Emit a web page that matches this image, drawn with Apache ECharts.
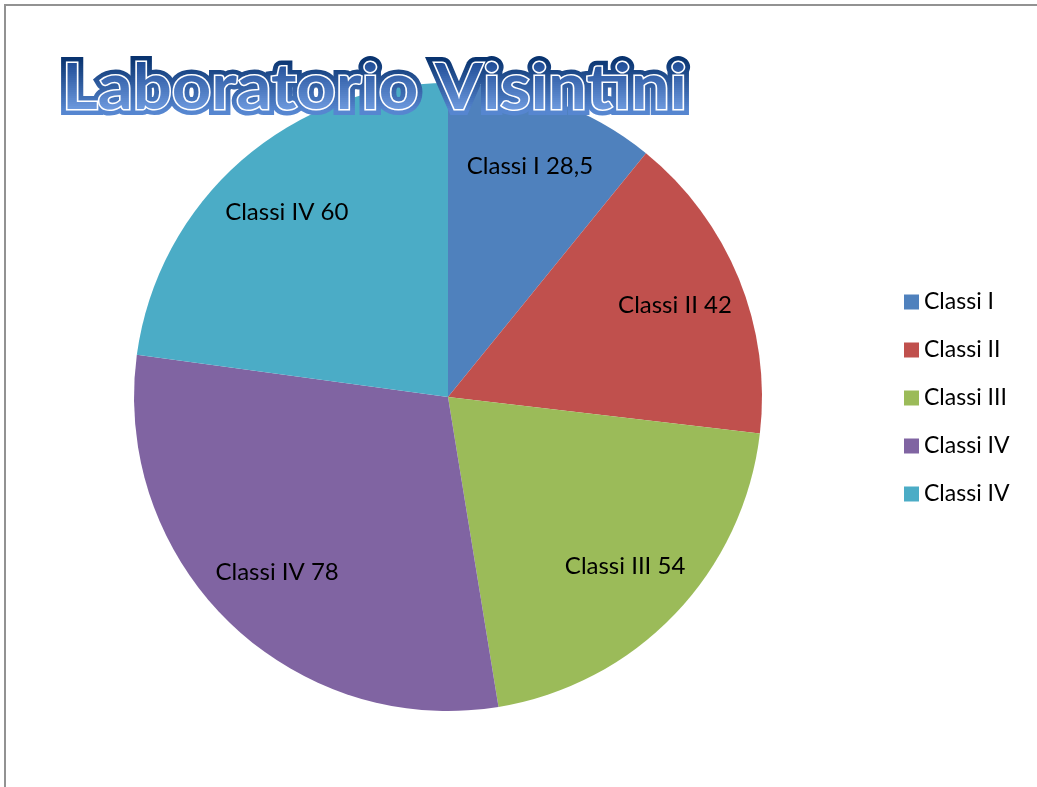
<!DOCTYPE html>
<html>
<head>
<meta charset="utf-8">
<script src="https://cdn.jsdelivr.net/npm/echarts@6/dist/echarts.min.js"></script>
<style>
  html, body { margin: 0; padding: 0; background: #fff; overflow: hidden; }
  #chart { width: 1037px; height: 787px; }
</style>
</head>
<body>
<div id="chart"></div>
<script>
// dati del grafico
var titolo = "Laboratorio Visintini";
// le ultime due classi hanno lo stesso nome, lo spazio finale le tiene distinte
var categorie = ["Classi I", "Classi II", "Classi III", "Classi IV", "Classi IV "];
var valori = [28.5, 42, 54, 78, 60];
var colori = ["#4F81BD", "#C0504D", "#9BBB59", "#8064A2", "#4BACC6"];

var dati = categorie.map(function (c, i) {
  return { name: c, value: valori[i] };
});

function etichetta(p) {
  return p.name.trim() + " " + String(p.value).replace(".", ",");
}

var myChart = echarts.init(document.getElementById("chart"));
myChart.setOption({
  animation: false,
  color: colori,
  legend: {
    orient: "vertical",
    left: 899,
    top: 285,
    itemWidth: 15,
    itemHeight: 15,
    itemGap: 24,
    icon: "rect",
    formatter: function (n) { return n.trim(); },
    textStyle: { fontFamily: "Lato", fontSize: 23, lineHeight: 24, color: "#000" },
    data: categorie
  },
  graphic: [
    {
      // cornice grigia
      type: "rect",
      silent: true,
      shape: { x: 5, y: 5, width: 1200, height: 900 },
      style: { fill: "none", stroke: "#929292", lineWidth: 2 }
    }
  ],
  series: [
    {
      type: "pie",
      center: [448, 397],
      radius: 314,
      startAngle: 90,
      silent: true,
      label: { show: false },
      labelLine: { show: false },
      itemStyle: { borderWidth: 0 },
      data: dati
    },
    {
      // serie trasparente solo per le etichette
      type: "pie",
      center: [448, 397],
      radius: [170, 314],
      startAngle: 90,
      silent: true,
      z: 3,
      itemStyle: { color: "rgba(0,0,0,0)" },
      label: {
        show: true,
        position: "inside",
        formatter: etichetta,
        fontFamily: "Lato",
        fontSize: 24,
        color: "#000"
      },
      labelLine: { show: false },
      data: dati
    }
  ]
});

// titolo con gradiente: il testo non accetta gradienti, quindi
// lo disegno a strisce orizzontali ritagliate, ognuna con il suo colore
var zr = myChart.getZr();
var yTop = 57, yBot = 110;

function strato(colA, colB, stroke, lw, z, blur) {
  for (var y = 42; y < 126; y += 2) {
    var t = Math.min(1, Math.max(0, (y - yTop) / (yBot - yTop)));
    var c = echarts.color.lerp(t, [colA, colB]);
    var g = new echarts.graphic.Group();
    g.setClipPath(new echarts.graphic.Rect({ shape: { x: 0, y: y, width: 1037, height: 2 } }));
    g.add(new echarts.graphic.Text({
      x: 62,
      y: 56,
      scaleX: 1.075,
      z: z,
      silent: true,
      style: {
        text: titolo,
        font: "bold 64px Lato",
        fill: c,
        stroke: stroke || c,
        lineWidth: lw,
        lineJoin: "round",
        shadowBlur: blur,
        shadowColor: blur ? "rgba(30,70,140,0.55)" : null
      }
    }));
    zr.add(g);
  }
}
strato("#08326e", "#5686d0", null, 12, 100, 3);
strato("#184690", "#709ce0", "#ffffff", 3, 101, 0);
</script>
</body>
</html>
